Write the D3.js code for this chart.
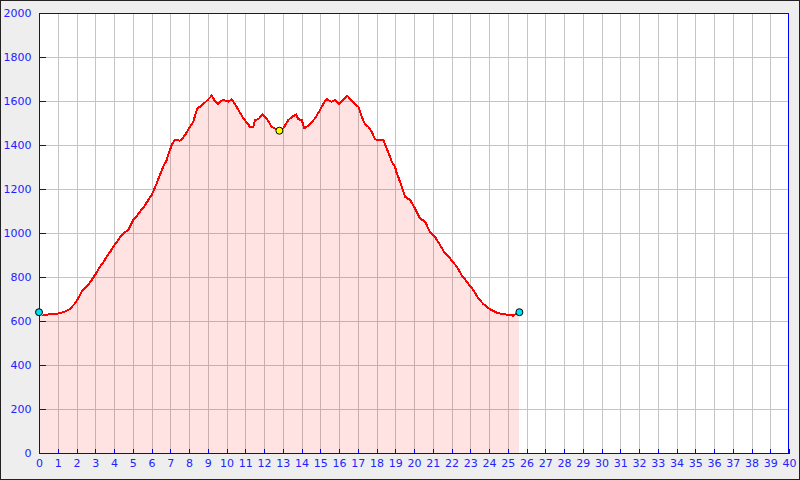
<!DOCTYPE html>
<html><head><meta charset="utf-8">
<script src="https://cdn.jsdelivr.net/npm/d3@7"></script>
<style>html,body{margin:0;padding:0;background:#eeeeee;}svg{display:block;}</style>
</head><body>
<svg id="c" width="800" height="480"></svg>
<script>
const distanceKm = [0,0.18,0.5,0.94,1.2,1.45,1.65,1.92,2.1,2.28,2.45,2.63,2.8,2.99,3.25,3.45,3.61,3.8,3.96,4.2,4.41,4.6,4.77,5.03,5.2,5.39,5.6,5.83,6.01,6.15,6.28,6.45,6.62,6.81,6.95,7.08,7.25,7.52,7.65,7.79,8.05,8.23,8.44,8.6,8.76,9.0,9.21,9.4,9.56,9.7,9.83,10.1,10.28,10.54,10.7,10.9,11.1,11.25,11.43,11.52,11.7,11.93,12.14,12.41,12.6,12.82,13.03,13.3,13.5,13.71,13.83,14.01,14.15,14.36,14.55,14.72,14.99,15.15,15.34,15.5,15.61,15.79,16.02,16.2,16.44,16.65,16.85,17.03,17.21,17.39,17.56,17.74,17.92,18.1,18.36,18.54,18.72,18.81,18.99,19.08,19.16,19.34,19.52,19.79,20.05,20.32,20.59,20.85,21.12,21.39,21.65,21.92,22.28,22.54,22.81,23.16,23.43,23.7,24.05,24.41,24.77,25.03,25.3,25.48,25.62];
const elevationM = [640,624,630,632,638,645,655,680,705,733,750,764,785,809,847,870,892,915,938,965,991,1005,1014,1059,1075,1097,1120,1150,1173,1200,1226,1264,1300,1332,1370,1400,1423,1420,1430,1445,1483,1506,1566,1575,1586,1605,1624,1598,1586,1600,1605,1597,1608,1574,1550,1521,1500,1483,1483,1514,1517,1539,1521,1483,1475,1465,1476,1514,1528,1539,1517,1514,1476,1488,1505,1521,1559,1585,1609,1600,1597,1605,1586,1605,1624,1605,1586,1574,1529,1494,1483,1461,1426,1423,1423,1385,1347,1324,1301,1271,1256,1211,1165,1150,1112,1067,1051,1006,983,945,908,885,847,809,779,741,703,677,653,638,630,629,624,635,640];
const xTicks = d3.range(0, 41, 1);
const yTicks = d3.range(0, 2001, 200);
const highlightKm = 12.82, highlightElev = 1465;

const W = 800, H = 480;
const m = {left: 39, top: 13, right: 11, bottom: 27};
const svg = d3.select('#c');
svg.append('rect').attr('x',0.5).attr('y',0.5).attr('width',W-1).attr('height',H-1)
  .attr('fill','#eeeeee').attr('stroke','#222').attr('stroke-width',1);

const x = d3.scaleLinear().domain([0,40]).range([m.left, W-m.right]);
const y = d3.scaleLinear().domain([0,2000]).range([H-m.bottom, m.top]);

svg.append('rect').attr('x',m.left).attr('y',m.top)
  .attr('width',W-m.right-m.left).attr('height',H-m.bottom-m.top).attr('fill','#fff');

const grid = svg.append('g').attr('stroke','#c4c4c4').attr('stroke-width',1).attr('shape-rendering','crispEdges');
grid.selectAll('.gx').data(xTicks.slice(1,-1)).join('line')
  .attr('x1',d=>Math.round(x(d))+0.5).attr('x2',d=>Math.round(x(d))+0.5)
  .attr('y1',m.top).attr('y2',H-m.bottom);
grid.selectAll('.gy').data(yTicks.slice(1,-1)).join('line')
  .attr('y1',d=>Math.round(y(d))+0.5).attr('y2',d=>Math.round(y(d))+0.5)
  .attr('x1',m.left).attr('x2',W-m.right);

const pts = distanceKm.map((d,i)=>[d, elevationM[i]]);
const area = d3.area().x(d=>x(d[0])).y0(y(0)).y1(d=>y(d[1]));
svg.append('path').datum(pts).attr('d',area).attr('fill','rgba(255,0,0,0.11)').attr('shape-rendering','crispEdges');
const line = d3.line().x(d=>x(d[0])).y(d=>y(d[1]));
svg.append('path').datum(pts.slice(1)).attr('d',line).attr('fill','none')
  .attr('stroke','#ff0000').attr('stroke-width',2).attr('stroke-linejoin','miter')
  .attr('shape-rendering','crispEdges');

// axes
const blue = '#0000ff';
const xAxis = d3.axisBottom(x).tickValues(xTicks).tickSize(-5).tickPadding(9).tickFormat(d3.format('d'));
const gx = svg.append('g').attr('transform',`translate(0,${H-m.bottom+0.5})`).call(xAxis);
const yAxis = d3.axisLeft(y).tickValues(yTicks).tickSize(-6).tickPadding(14).tickFormat(d3.format('d'));
const gy = svg.append('g').attr('transform',`translate(${m.left+0.5},0)`).call(yAxis);
[gx,gy].forEach(g=>{
  g.selectAll('.domain').remove();
  g.selectAll('line').attr('stroke',blue).attr('shape-rendering','crispEdges');
  g.selectAll('text').attr('fill','#2222ff').style('font-family','DejaVu Sans').style('font-size','11px');
});
gx.selectAll('text').attr('dy','0.35em').attr('y',10);
gy.selectAll('text').attr('x',-8);
svg.append('rect').attr('x',m.left+0.5).attr('y',m.top+0.5)
  .attr('width',W-m.right-m.left-1).attr('height',H-m.bottom-m.top)
  .attr('fill','none').attr('stroke',blue).attr('stroke-width',1).attr('shape-rendering','crispEdges');

// markers
const ends = [pts[0], pts[pts.length-1]];
svg.selectAll('.end').data(ends).join('circle').attr('cx',d=>x(d[0])).attr('cy',d=>y(d[1]))
  .attr('r',3.5).attr('fill','#00e0f0').attr('stroke','#000').attr('stroke-width',1);
svg.append('circle').attr('cx',x(highlightKm)).attr('cy',y(highlightElev)).attr('r',3.5)
  .attr('fill','#ffff00').attr('stroke','#000').attr('stroke-width',1);
</script>
</body></html>
